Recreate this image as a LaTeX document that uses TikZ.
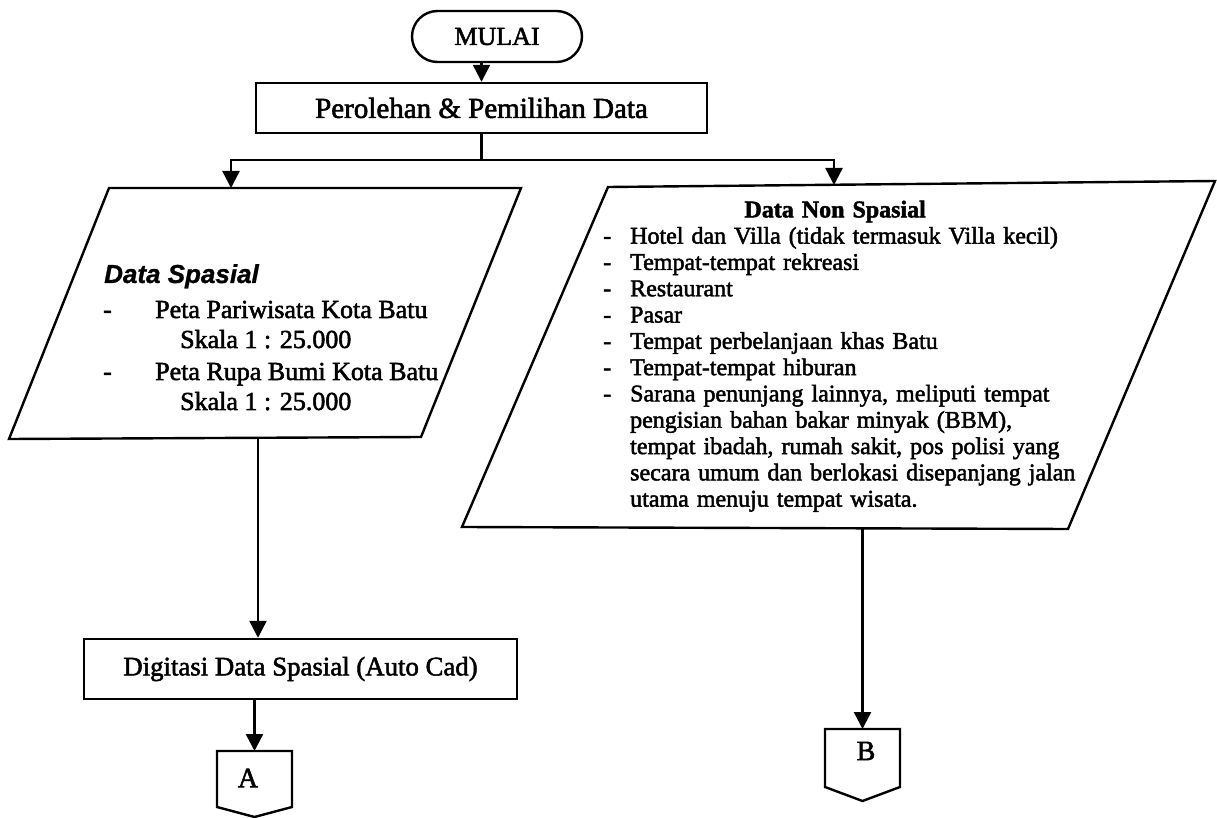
\documentclass[tikz,border=0pt]{standalone}
\usepackage{fontspec}
% the printed text has heavy strokes: embolden the serif face
\setmainfont{Liberation Serif}[FakeBold=2]
\newfontfamily\arialfont{Liberation Sans}[FakeBold=1]
\usetikzlibrary{arrows.meta,shapes.misc}

% dash and hanging indent of the item list
\newcommand\nsdash{\makebox[13.5pt][l]{-}}
\newcommand\nsindent{\hspace*{13.5pt}}

\begin{document}
\begin{tikzpicture}[x=0.5pt,y=-0.5pt,
  line width=1.2pt,
  arr/.style={-{Triangle[length=8.5pt,width=8.5pt]}},
  procbox/.style={draw, rectangle, inner sep=0pt},
  termbox/.style={draw, rounded rectangle, inner sep=0pt},
  plain/.style={inner sep=0pt, anchor=base west},
  bodyfont/.style={font=\fontsize{13}{15}\selectfont}]
\useasboundingbox (0,0) rectangle (1217,818);

% start and first process
\node[termbox, minimum width=85pt, minimum height=25.5pt,
      font=\fontsize{13}{15}\selectfont] (mulai) at (497,36.5) {MULAI};
\node[procbox, minimum width=225.5pt, minimum height=25pt,
      font=\fontsize{14.5}{16}\selectfont] (perolehan) at (481.5,108)
      {Perolehan \& Pemilihan Data};

% input: spatial data
\draw (109,188) coordinate (sp-tl) -- (521,188) coordinate (sp-tr)
   -- (421,437) coordinate (sp-br) -- (9,439) coordinate (sp-bl) -- cycle;
\node[plain, font=\arialfont\bfseries\itshape\fontsize{13}{15}\selectfont]
   (sp-title) at (103,283) {Data Spasial};
\node[plain, bodyfont] (sp-d1) at (102,318) {-};
\node[plain, bodyfont] (sp-i1) at (154,318) {Peta Pariwisata Kota Batu};
\node[plain, bodyfont] (sp-s1) at (179,348) {Skala 1 : 25.000};
\node[plain, bodyfont] (sp-d2) at (102,380) {-};
\node[plain, bodyfont] (sp-i2) at (154,380) {Peta Rupa Bumi Kota Batu};
\node[plain, bodyfont] (sp-s2) at (179,410) {Skala 1 : 25.000};

% input: non-spatial data
\draw (608,187) coordinate (ns-tl) -- (1215,181) coordinate (ns-tr)
   -- (1068,529) coordinate (ns-br) -- (462,527) coordinate (ns-bl) -- cycle;
\node[anchor=north west, inner sep=0pt, text width=232pt, align=left,
      font=\fontsize{12}{13.15}\selectfont] (ns-text) at (602,199.5) {%
\makebox[232pt]{\bfseries Data Non Spasial}\\
\nsdash Hotel dan Villa (tidak termasuk Villa kecil)\\
\nsdash Tempat-tempat rekreasi\\
\nsdash Restaurant\\
\nsdash Pasar\\
\nsdash Tempat perbelanjaan khas Batu\\
\nsdash Tempat-tempat hiburan\\
\nsdash\makebox[218.5pt][s]{Sarana penunjang lainnya, meliputi tempat}\\
\nsindent\makebox[218.5pt][s]{pengisian bahan bakar minyak (BBM),}\\
\nsindent\makebox[218.5pt][s]{tempat ibadah, rumah sakit, pos polisi yang}\\
\nsindent\makebox[218.5pt][s]{secara umum dan berlokasi disepanjang jalan}\\
\nsindent utama menuju tempat wisata.};

% digitising step
\node[procbox, minimum width=216.5pt, minimum height=30pt,
      font=\fontsize{13.4}{15}\selectfont] (digit) at (300.5,669)
      {Digitasi Data Spasial (Auto Cad)};

% off-page connectors
\draw (217,751) -- (292,751) -- (292,807) -- (254.5,817) -- (217,807) -- cycle;
\coordinate (a-top) at (254.5,751);
\node[font=\fontsize{14}{16}\selectfont, inner sep=0pt] (a-label) at (248,778) {A};
\draw (825,729) -- (900,729) -- (900,787) -- (862.5,801) -- (825,787) -- cycle;
\coordinate (b-top) at (862.5,729);
\node[font=\fontsize{14}{16}\selectfont, inner sep=0pt] (b-label) at (866,751) {B};

% connectors
\coordinate (fork) at (481.5,160);
\coordinate (sp-in) at (231,188);
\coordinate (ns-in) at (834,185);
\coordinate (sp-out) at (258,438);
\coordinate (ns-out) at (862.5,528);
\draw[arr] (mulai.south -| perolehan.north) -- (perolehan.north);
\draw (perolehan.south) -- (fork);
\draw[arr] (fork) -| (sp-in);
\draw[arr] (fork) -| (ns-in);
\draw[arr] (sp-out) -- (sp-out |- digit.north);
\draw[arr] (digit.south -| a-top) -- (a-top);
\draw[arr] (ns-out) -- (b-top);
\end{tikzpicture}
\end{document}
